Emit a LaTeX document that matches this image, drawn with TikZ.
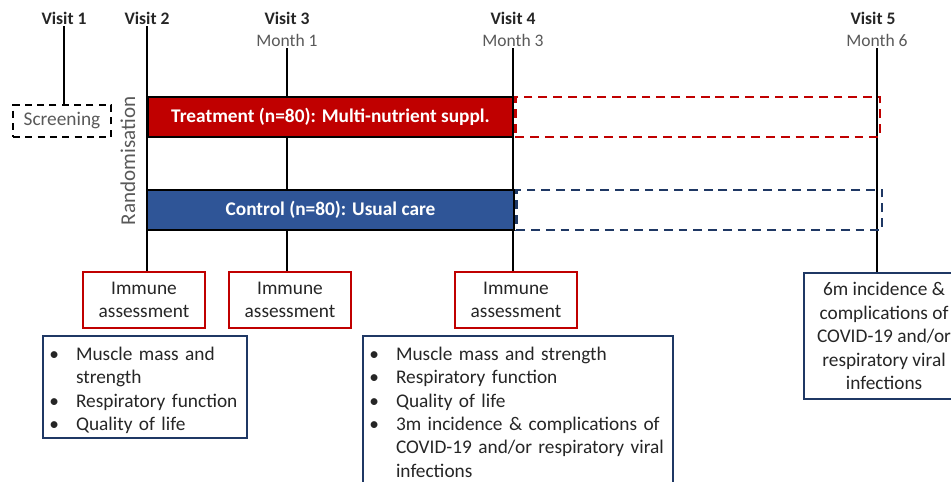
\documentclass[tikz,border=0pt]{standalone}
\usepackage{fontspec}
\setmainfont{Carlito}
\usetikzlibrary{positioning}
\definecolor{trtred}{HTML}{C00000}
\definecolor{ctlblue}{HTML}{2F5597}
\definecolor{navy}{HTML}{1F3864}
\colorlet{muted}{black!65}
\colorlet{ink}{black!85}

\newenvironment{blist}{\begin{list}{\textbullet}{%
    \setlength\leftmargin{0.56cm}\setlength\labelsep{0.34cm}%
    \setlength\labelwidth{0.22cm}\setlength\itemsep{0pt}%
    \setlength\parsep{0pt}\setlength\topsep{0pt}\setlength\partopsep{0pt}}}%
  {\end{list}}

\begin{document}
\begin{tikzpicture}[x=0.02cm, y=-0.02cm,
    visit/.style={font=\fontsize{10}{12}\selectfont\bfseries, text=ink, inner sep=1pt},
    month/.style={font=\fontsize{10}{12}\selectfont, text=muted, inner sep=1pt},
    tl/.style={draw=black, line width=1pt},
    bar/.style={draw=black, line width=1.1pt, minimum width=7.3cm, minimum height=0.8cm,
                text=white, font=\fontsize{11}{13}\selectfont\bfseries},
    fup/.style={line width=1.5pt, dash pattern=on 5pt off 3.4pt,
                minimum width=7.3cm, minimum height=0.8cm},
    imm/.style={draw=trtred, line width=1.1pt, fill=white, minimum width=2.44cm,
                minimum height=1.12cm, align=center, text=ink,
                font=\fontsize{11}{13.2}\selectfont, inner sep=0pt},
    outc/.style={draw=navy, line width=1.2pt, fill=white, text=ink,
                 font=\fontsize{11}{13.3}\selectfont, inner xsep=0.1cm, inner ysep=0.02cm},
  ]
  \clip (0,0) rectangle (951,481);

  % visits and months
  \node[visit] (v1) at (64,18) {Visit 1};
  \node[visit] (v2) at (147,18) {Visit 2};
  \node[visit] (v3) at (287,18) {Visit 3};
  \node[month] (m1) at (287,40) {Month 1};
  \node[visit] (v4) at (513,18) {Visit 4};
  \node[month] (m3) at (513,40) {Month 3};
  \node[visit] (v5) at (873,18) {Visit 5};
  \node[month] (m6) at (877,40) {Month 6};

  \node[draw=black, line width=1.1pt, dash pattern=on 4pt off 3pt, text=muted,
        minimum width=1.96cm, minimum height=0.64cm,
        font=\fontsize{11}{13}\selectfont] (scr) at (62,121) {Screening};
  \node[rotate=90, text=muted, font=\fontsize{12}{14}\selectfont] (rand) at (128,161)
    {Randomisation};

  % assessments
  \node[imm] (imm1) at (144,300) {Immune\\assessment};
  \node[imm] (imm2) at (290,300) {Immune\\assessment};
  \node[imm] (imm3) at (516,300) {Immune\\assessment};

  \node[outc, anchor=north west, text width=3.88cm] (meas2)
    at (42,335) {\begin{blist}
      \item Muscle mass and strength
      \item Respiratory function
      \item Quality of life
    \end{blist}\vspace{2pt}};
  \node[outc, anchor=north west, text width=6.0cm]
    (meas4) at (362,335) {\begin{blist}
      \item Muscle mass and strength
      \item Respiratory function
      \item Quality of life
      \item 3m incidence \& complications of COVID-19 and/or respiratory viral infections
    \end{blist}\vspace{12pt}};
  \node[outc, anchor=north west, minimum width=3.2cm, minimum height=2.52cm, align=center]
    (inc6) at (803,272)
    {6m incidence \&\\ complications of\\ COVID-19 and/or\\ respiratory viral\\ infections};

  % time lines
  \draw[tl] (v1.south) -- (v1.south |- scr.north);
  \draw[tl] (v2.south) -- (v2.south |- imm1.north);
  \draw[tl] (m1.south) -- (m1.south |- imm2.north);
  \draw[tl] (m3.south) -- (m3.south |- imm3.north);
  \draw[tl] (m6.south) -- (m6.south |- inc6.north);

  % arms
  \node[bar, fill=trtred] (trt) at (330.5,117)
    {Treatment (n=80): Multi-nutrient suppl.};
  \node[bar, fill=ctlblue, minimum width=7.34cm] (ctl) at (330.5,210)
    {Control (n=80): Usual care};
  \node[fup, draw=trtred, anchor=west] (trtx) at (trt.east) {};
  \node[fup, draw=navy, anchor=west, minimum width=7.32cm] (ctlx) at (ctl.east) {};
\end{tikzpicture}
\end{document}
